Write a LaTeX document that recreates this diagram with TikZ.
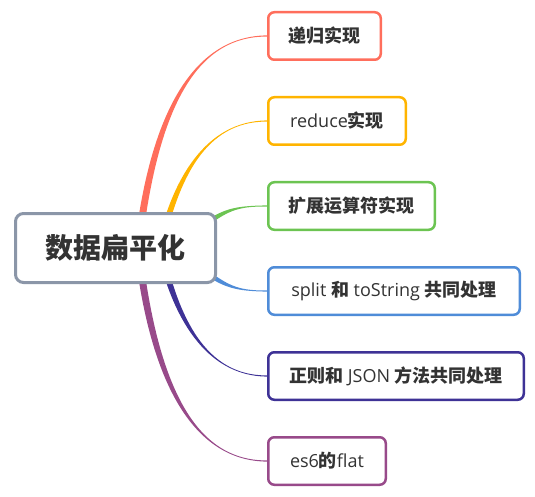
\documentclass[tikz,border=0pt]{standalone}
\usepackage{fontspec}
\setmainfont{Open Sans}
\newfontfamily\cjk{Noto Sans CJK SC}
\usetikzlibrary{calc}
\newcommand\zh[1]{{\cjk\bfseries #1}}
\definecolor{cred}{HTML}{FF6E5C}
\definecolor{corange}{HTML}{FFB400}
\definecolor{cgreen}{HTML}{6CC452}
\definecolor{cblue}{HTML}{4F8CD8}
\definecolor{cdpurple}{HTML}{3E3296}
\definecolor{cpurple}{HTML}{984A8A}
\definecolor{cgray}{HTML}{8B96A8}
\definecolor{txt}{HTML}{333333}
% #1 colour, #2 start half-width offset, #3 end half-width offset, #4-#7 bezier points
\newcommand\branch[7]{%
  \fill[#1] ($#4+#2$) .. controls ($#5+#2$) and #6 .. ($#7+#3$) --
    ($#7-#3$) .. controls #6 and ($#5-#2$) .. ($#4-#2$) -- cycle;}
\begin{document}
\begin{tikzpicture}[x=1pt,y=-1pt,
  leaf/.style={draw, line width=2.5pt, rounded corners=6pt, fill=white,
    inner sep=0pt, minimum height=47.5pt, text=txt,
    font=\fontsize{18}{20}\selectfont},
  rootbox/.style={draw=cgray, line width=3pt, rounded corners=8pt, fill=white,
    inner sep=0pt, minimum width=200pt, minimum height=69pt, text=txt,
    font=\fontsize{28}{30}\selectfont}]
\useasboundingbox (0,0) rectangle (535,497);
% branches
\branch{cred}{(-3.6,0)}{(0,-0.6)}{(138,248)}{(155,100)}{(200,36)}{(267,36)}
\branch{cpurple}{(-3.6,0)}{(0,0.6)}{(138,248)}{(155,396)}{(200,461)}{(267,461)}
\branch{corange}{(-3.3,0)}{(0,-0.6)}{(160,248)}{(175,180)}{(205,121)}{(267,121)}
\branch{cdpurple}{(-3.3,0)}{(0,0.6)}{(160,248)}{(175,316)}{(205,376)}{(267,376)}
\branch{cgreen}{(-1.5,-2.1)}{(0,-0.6)}{(200,228)}{(225,210)}{(235,206)}{(267,206)}
\branch{cblue}{(-1.5,2.1)}{(0,0.6)}{(200,268)}{(225,286)}{(235,291)}{(267,291)}
% root
\node[rootbox] (root) at (115.5,248) {\zh{数据扁平化}};
% leaves
\node[leaf, draw=cred, minimum width=112.5pt] (n1) at (324.5,36) {\zh{递归实现}};
\node[leaf, draw=corange, minimum width=137.5pt] (n2) at (337,121) {reduce\zh{实现}};
\node[leaf, draw=cgreen, minimum width=166.5pt] (n3) at (351.5,206) {\zh{扩展运算符实现}};
\node[leaf, draw=cblue, minimum width=251.5pt] (n4) at (394,291) {split \zh{和} toString \zh{共同处理}};
\node[leaf, draw=cdpurple, minimum width=255.5pt] (n5) at (396,376) {\zh{正则和} JSON \zh{方法共同处理}};
\node[leaf, draw=cpurple, minimum width=117.5pt] (n6) at (327,461) {es6\zh{的}flat};
\end{tikzpicture}
\end{document}
